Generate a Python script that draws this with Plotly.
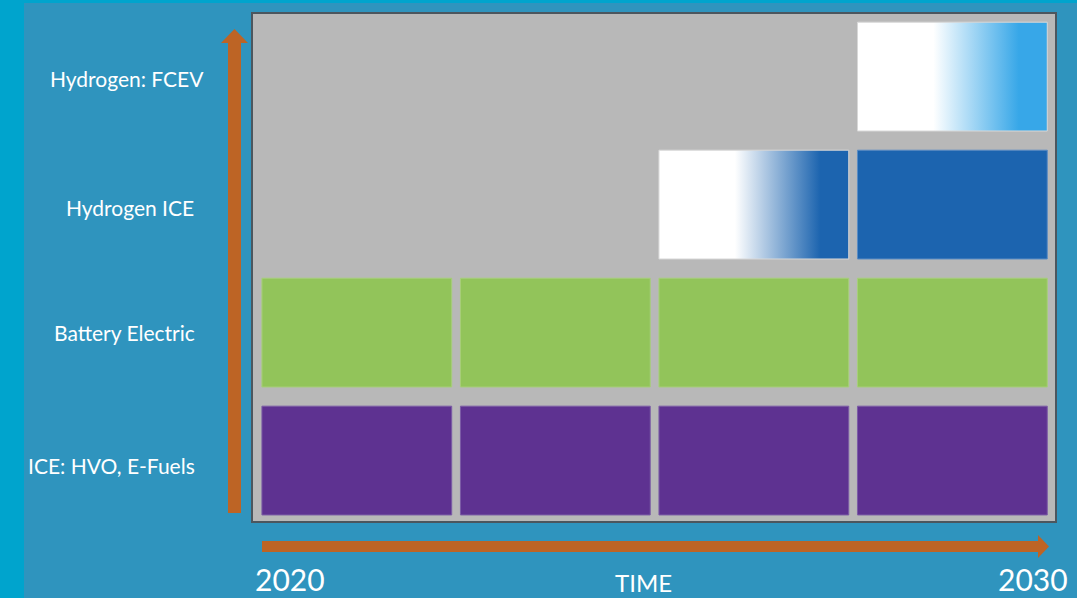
import plotly.graph_objects as go

# ---------------- data ----------------
technologies = ["ICE: HVO, E-Fuels", "Battery Electric", "Hydrogen ICE", "Hydrogen: FCEV"]
periods = [0, 1, 2, 3]            # four time steps between 2020 and 2030
# status per period: 0 = not available, 1 = emerging (fade-in), 2 = established
ice_status = [2, 2, 2, 2]
bev_status = [2, 2, 2, 2]
h2ice_status = [0, 0, 1, 2]
fcev_status = [0, 0, 0, 1]
tech_colors = ["#5E3291", "#92C45A", "#1C64AF", "#37A7E8"]
tech_edges = ["#7C5CA6", "#A7CF7A", "#5A8CC4", "#9FCFEF"]
time_labels = ["2020", "2030"]
time_title = "TIME"

statuses = [ice_status, bev_status, h2ice_status, fcev_status]

# ---------------- geometry helpers ----------------
W, H = 1077, 598
L, R, T, B = 252, 1056, 13, 522   # plot-area pixels
BAR_W = 0.956
BAR_H = 0.85


def px(x):
    return (x - L) / (R - L)


def py(y):
    return (B - y) / (B - T)


fig = go.Figure()

for ti, (tech, st) in enumerate(zip(technologies, statuses)):
    for pi, s in zip(periods, st):
        if s == 0:
            continue
        x0, x1 = pi, pi + BAR_W
        y0, y1 = ti, ti + BAR_H
        kw = dict(
            x=[x0, x1, x1, x0, x0],
            y=[y0, y0, y1, y1, y0],
            mode="lines",
            fill="toself",
            line=dict(width=1, color=tech_edges[ti] if s == 2 else "#D8D8D8"),
            hoverinfo="text",
            text=tech,
            showlegend=False,
        )
        if s == 2:
            kw["fillcolor"] = tech_colors[ti]
        else:
            kw["fillgradient"] = dict(
                type="horizontal",
                colorscale=[[0, "#FFFFFF"], [0.4, "#FFFFFF"],
                            [0.85, tech_colors[ti]], [1, tech_colors[ti]]],
            )
        fig.add_trace(go.Scatter(**kw))

# ---------------- annotations ----------------
label_centers = [111, 124, 130, 127]
label_offsets = [-5, 0, -3, -2]   # pixel nudges of label centres
annotations = []
for ti, tech in enumerate(technologies):
    annotations.append(dict(
        text=tech, x=px(label_centers[ti]), xref="paper",
        y=ti + BAR_H / 2, yref="y", yshift=label_offsets[ti], showarrow=False,
        xanchor="center", yanchor="middle",
        font=dict(family="Lato", size=21, color="white"),
    ))
annotations.append(dict(text=time_labels[0], x=px(290), y=py(579), xref="paper", yref="paper",
                        showarrow=False, xanchor="center", yanchor="middle",
                        font=dict(family="Lato", size=30, color="white")))
annotations.append(dict(text=time_labels[1], x=px(1033), y=py(579), xref="paper", yref="paper",
                        showarrow=False, xanchor="center", yanchor="middle",
                        font=dict(family="Lato", size=30, color="white")))
annotations.append(dict(text=time_title, x=px(643), y=py(582), xref="paper", yref="paper",
                        showarrow=False, xanchor="center", yanchor="middle",
                        font=dict(family="Lato", size=24, color="white")))

# ---------------- decorative shapes ----------------
ORANGE = "#BD6425"
shapes = [
    # outer cyan frame
    dict(type="rect", xref="paper", yref="paper", x0=px(0), x1=px(24), y0=py(H), y1=py(0),
         fillcolor="#00A4CD", line=dict(width=0), layer="below"),
    dict(type="rect", xref="paper", yref="paper", x0=px(0), x1=px(W), y0=py(3), y1=py(0),
         fillcolor="#00A4CD", line=dict(width=0), layer="below"),
    # box border
    dict(type="rect", xref="paper", yref="paper", x0=0, x1=1, y0=0, y1=1,
         line=dict(width=2, color="#4C565E"), layer="above"),
]
# vertical arrow
va = [(228, 513), (241, 513), (241, 43), (248, 43), (234.5, 29), (221, 43), (228, 43)]
shapes.append(dict(type="path", xref="paper", yref="paper",
                   path="M " + " L ".join(f"{px(a):.5f},{py(b):.5f}" for a, b in va) + " Z",
                   fillcolor=ORANGE, line=dict(width=0)))
# horizontal arrow
ha = [(262, 541), (1038, 541), (1038, 535), (1049, 546.5), (1038, 558), (1038, 552), (262, 552)]
shapes.append(dict(type="path", xref="paper", yref="paper",
                   path="M " + " L ".join(f"{px(a):.5f},{py(b):.5f}" for a, b in ha) + " Z",
                   fillcolor=ORANGE, line=dict(width=0)))

fig.update_layout(
    width=W, height=H,
    margin=dict(l=L, r=W - R, t=T, b=H - B, pad=0),
    paper_bgcolor="#2F94BE",
    plot_bgcolor="#B8B8B8",
    xaxis=dict(range=[-0.05, 4.0], visible=False, fixedrange=True),
    yaxis=dict(range=[-0.055, 3.922], visible=False, fixedrange=True),
    annotations=annotations,
    shapes=shapes,
    showlegend=False,
)

fig.write_html(
    "out.html",
    config={"displayModeBar": False},
    post_script="document.body.style.margin='0';document.body.style.overflow='hidden';",
)
